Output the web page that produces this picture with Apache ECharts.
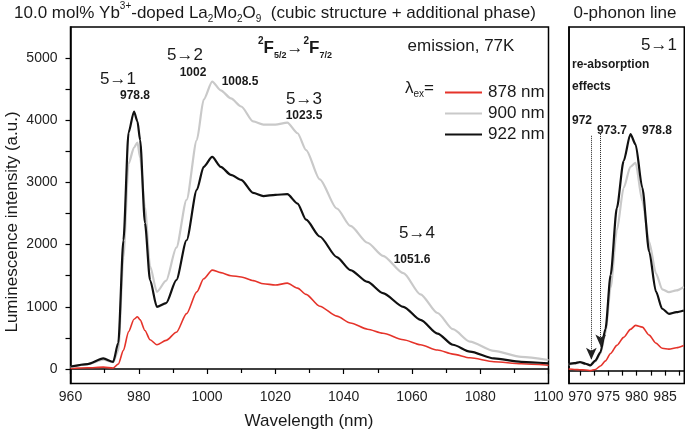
<!DOCTYPE html>
<html>
<head>
<meta charset="utf-8">
<script src="https://cdn.jsdelivr.net/npm/echarts@6/dist/echarts.min.js"></script>
<style>html,body{margin:0;padding:0;background:#fff}#c{width:685px;height:435px}</style>
</head>
<body>
<div id="c"></div>
<script>
// ---- main panel data (wavelength nm, intensity a.u.) ----
const wave = [960, 965, 969.6, 972.5, 974, 975.5, 977, 978.6, 979.6, 980.4, 981.8, 983.3, 985.3, 988, 991, 994, 997, 999, 1001.5, 1004, 1007, 1010, 1013.5, 1016.5, 1020, 1023.5, 1026.5, 1029, 1033, 1038, 1042, 1047, 1051.5, 1057.5, 1062.5, 1067.5, 1072, 1077, 1084, 1092, 1100];
const ex878 = [10, 20, 30, 15, 80, 300, 600, 800, 840, 790, 620, 470, 390, 460, 590, 890, 1240, 1450, 1590, 1550, 1500, 1480, 1420, 1370, 1350, 1380, 1300, 1200, 1010, 850, 740, 640, 575, 470, 390, 305, 240, 180, 117, 85, 60];
const ex900 = [30, 80, 150, 110, 300, 1800, 3300, 3560, 3640, 3400, 2600, 1650, 1240, 1420, 1950, 2720, 3680, 4330, 4620, 4480, 4350, 4220, 3980, 3930, 3930, 3960, 3790, 3520, 3050, 2580, 2300, 2030, 1820, 1540, 1200, 900, 640, 440, 290, 195, 145];
const ex922 = [40, 80, 170, 115, 420, 2070, 3800, 4140, 3980, 3680, 2350, 1430, 1000, 1060, 1430, 2070, 2880, 3250, 3410, 3250, 3120, 3040, 2830, 2780, 2800, 2810, 2660, 2400, 2130, 1800, 1590, 1400, 1220, 1000, 790, 570, 390, 280, 170, 115, 90];
// ---- 0-phonon line panel data ----
const zWave = [968, 969, 970, 971, 971.8, 972.7, 973.6, 974.5, 975.4, 976.5, 977.7, 978.9, 979.8, 981, 982.2, 983.4, 984.5, 985.7, 987, 988.3];
const z878 = [28, 20, 15, 10, 0, 20, 80, 170, 300, 440, 580, 720, 790, 760, 620, 480, 390, 375, 400, 440];
const z900 = [110, 120, 140, 120, 90, 160, 300, 650, 1450, 2450, 3190, 3560, 3630, 2960, 2250, 1700, 1420, 1370, 1400, 1460];
const z922 = [117, 130, 150, 120, 90, 175, 320, 730, 1670, 2840, 3660, 4130, 3950, 3190, 2080, 1380, 1080, 990, 1020, 1050];
const seriesNames = ['878 nm', '900 nm', '922 nm'];
const xTicksMain = [960, 980, 1000, 1020, 1040, 1060, 1080, 1100];
const yLabelsMain = [0, 1000, 2000, 3000, 4000, 5000];
const yTicksMain = [0, 500, 1000, 1500, 2000, 2500, 3000, 3500, 4000, 4500, 5000];
const xLabelsZoom = [970, 975, 980, 985];
const xTicksZoom = [970, 972.5, 975, 977.5, 980, 982.5, 985, 987.5];
const reabsLines = [972, 973.65];

const colors = ['#e5332a', '#c9c9c9', '#111111'];
const widths = [1.6, 2.2, 2.2];
const FF = '"Liberation Sans", Arial, Helvetica, sans-serif';
const plain = v => String(v);

function pairs(xs, ys) { return xs.map((x, i) => [x, ys[i]]); }

const chart = echarts.init(document.getElementById('c'), null, {renderer: 'canvas'});

function T(x, y, text, size, weight, align, extra) {
  return Object.assign({
    type: 'text', x: x, y: y, silent: true,
    style: {text: text, font: (weight || 'normal') + ' ' + size + 'px ' + FF, fontFamily: FF, fontSize: size, fontWeight: weight || 'normal',
      fill: '#1a1a1a', align: align || 'center', verticalAlign: 'middle', textAlign: align || 'center', textVerticalAlign: 'middle'}
  }, extra || {});
}
function R(x, y, text, rich, align) {
  return {type: 'text', x: x, y: y, silent: true,
    style: {text: text, rich: rich, fontFamily: FF, fontSize: 17, fill: '#1a1a1a', align: align || 'left', verticalAlign: 'middle', textAlign: align || 'left', textVerticalAlign: 'middle'}};
}

const mainData = [ex878, ex900, ex922];
const zoomData = [z878, z900, z922];
const series = [];
for (let i = 0; i < 3; i++) {
  series.push({name: seriesNames[i], type: 'line', xAxisIndex: 0, yAxisIndex: 0, data: pairs(wave, mainData[i]),
    showSymbol: false, smooth: 0.25, smoothMonotone: 'x', silent: true,
    lineStyle: {color: colors[i], width: widths[i]}, itemStyle: {color: colors[i]}, z: 2 + i});
}
for (let i = 0; i < 3; i++) {
  const s = {name: seriesNames[i], type: 'line', xAxisIndex: 1, yAxisIndex: 1, data: pairs(zWave, zoomData[i]),
    showSymbol: false, smooth: 0.25, smoothMonotone: 'x', silent: true,
    lineStyle: {color: colors[i], width: widths[i]}, itemStyle: {color: colors[i]}, z: 2 + i};
  if (i === 2) {
    s.markLine = {silent: true, symbol: ['none', 'arrow'], symbolSize: [8, 12], label: {show: false},
      lineStyle: {type: 'dotted', color: '#222', width: 1},
      data: [[{coord: [reabsLines[0], 4100]}, {coord: [reabsLines[0], 190]}],
             [{coord: [reabsLines[1], 4130]}, {coord: [reabsLines[1], 420]}]]};
  }
  series.push(s);
}

const axisCommon = {axisLine: {show: true, lineStyle: {color: '#000', width: 1.5}}, splitLine: {show: false}};

const sup = {fontSize: 10, verticalAlign: 'top', lineHeight: 12, fontFamily: FF, fill: '#1a1a1a'};
const sub = {fontSize: 10, verticalAlign: 'bottom', lineHeight: 12, fontFamily: FF, fill: '#1a1a1a'};
const base = {fontSize: 17, lineHeight: 23, fontFamily: FF, fill: '#1a1a1a'};

const graphics = [
  R(14, 13, '{b|10.0 mol% Yb}{p|3+}{b|-doped La}{s|2}{b|Mo}{s|2}{b|O}{s|9}{b|  (cubic structure + additional phase)}',
    {b: base, p: sup, s: sub}),
  T(625, 13, '0-phonon line', 17),
  T(461, 46, 'emission, 77K', 17),
  R(295, 48, '{p|2}{F|F}{s|5/2}{a|\u2192}{p|2}{F|F}{s|7/2}',
    {F: {fontSize: 17, fontWeight: 'bold', lineHeight: 24, fontFamily: FF, fill: '#1a1a1a'},
     a: {fontSize: 17, lineHeight: 24, fontFamily: FF, fill: '#1a1a1a'},
     p: {fontSize: 10, fontWeight: 'bold', verticalAlign: 'top', lineHeight: 12, fontFamily: FF, fill: '#1a1a1a'},
     s: {fontSize: 9, fontWeight: 'bold', verticalAlign: 'bottom', lineHeight: 12, fontFamily: FF, fill: '#1a1a1a'}}, 'center'),
  T(118, 79, '5\u21921', 17),
  T(135, 96, '978.8', 12, 'bold'),
  T(185, 55, '5\u21922', 17),
  T(193, 73, '1002', 12, 'bold'),
  T(240, 82, '1008.5', 12, 'bold'),
  T(304, 99, '5\u21923', 17),
  T(304, 116, '1023.5', 12, 'bold'),
  T(417, 233, '5\u21924', 17),
  T(412, 260, '1051.6', 12, 'bold'),
  R(405, 88, '{l|\u03bb}{s|ex}{e|=}', {l: base, s: sub, e: base}),
  T(659, 45, '5\u21921', 17),
  T(572, 65, 're-absorption', 12, 'bold', 'left'),
  T(572, 87, 'effects', 12, 'bold', 'left'),
  T(582, 121, '972', 12, 'bold'),
  T(612, 131, '973.7', 12, 'bold'),
  T(657, 131, '978.8', 12, 'bold'),
  T(309, 421, 'Wavelength (nm)', 17),
  T(12, 222, 'Luminescence intensity (a.u.)', 17, 'normal', 'center', {rotation: Math.PI / 2})
];

const option = {
  animation: false,
  backgroundColor: '#fff',
  textStyle: {fontFamily: FF},
  grid: [
    {left: 70.5, top: 27, width: 478, height: 356.5, show: true, borderColor: '#000', borderWidth: 1.5, backgroundColor: 'transparent'},
    {left: 569, top: 27, width: 115.3, height: 356.5, show: true, borderColor: '#000', borderWidth: 1.5, backgroundColor: 'transparent'}
  ],
  xAxis: [
    Object.assign({type: 'value', gridIndex: 0, min: 960, max: 1100, interval: 20,
      axisTick: {show: true, length: 5, lineStyle: {color: '#000', width: 1.2}},
      minorTick: {show: true, splitNumber: 2, length: 4, lineStyle: {color: '#000', width: 1.2}},
      axisLabel: {color: '#222', fontSize: 14, margin: 7, fontFamily: FF, formatter: plain}}, axisCommon),
    Object.assign({type: 'value', gridIndex: 1, min: 968.06, max: 988.4,
      axisTick: {show: true, length: 5, customValues: xTicksZoom, lineStyle: {color: '#000', width: 1.2}},
      axisLabel: {color: '#222', fontSize: 14, margin: 7, fontFamily: FF, customValues: xLabelsZoom, formatter: plain}}, axisCommon)
  ],
  yAxis: [
    Object.assign({type: 'value', gridIndex: 0, min: -233, max: 5498,
      axisTick: {show: true, length: 5, customValues: yTicksMain, lineStyle: {color: '#000', width: 1.2}},
      axisLabel: {color: '#222', fontSize: 14, margin: 13, fontFamily: FF, customValues: yLabelsMain, formatter: plain}}, axisCommon),
    Object.assign({type: 'value', gridIndex: 1, min: -225, max: 6000,
      axisTick: {show: false}, axisLabel: {show: false}}, axisCommon)
  ],
  legend: {
    show: true, orient: 'vertical', left: 440, top: 77, icon: 'rect', itemWidth: 37, itemHeight: 2,
    itemGap: 0, selectedMode: false, data: seriesNames,
    textStyle: {fontSize: 17, color: '#1a1a1a', fontFamily: FF, lineHeight: 21, padding: [0, 0, 0, 1]}
  },
  graphic: graphics,
  series: series
};
chart.setOption(option);
</script>
</body>
</html>
